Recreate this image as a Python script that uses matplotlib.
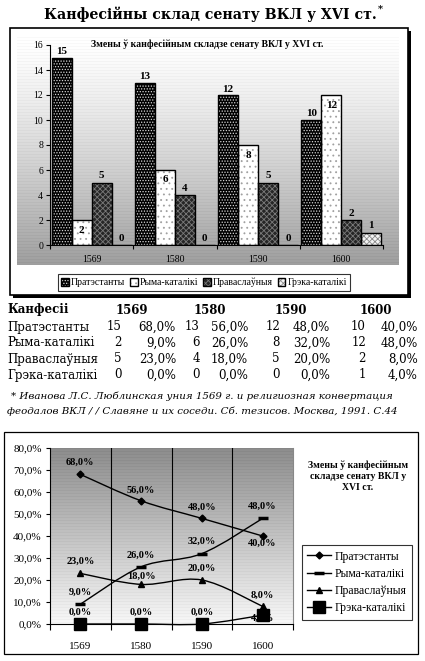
import numpy as np
import matplotlib
matplotlib.use('Agg')
import matplotlib.pyplot as plt
from matplotlib.patches import Rectangle, PathPatch
from matplotlib.path import Path
from matplotlib.lines import Line2D

# ---------------- data ----------------
years = ['1569', '1580', '1590', '1600']
confessions = ['Пратэстанты', 'Рыма-каталікі', 'Праваслаўныя', 'Грэка-каталікі']
protestants = [15, 13, 12, 10]
roman_catholics = [2, 6, 8, 12]
orthodox = [5, 4, 5, 2]
greek_catholics = [0, 0, 0, 1]
protestants_pct = [68.0, 56.0, 48.0, 40.0]
roman_catholics_pct = [9.0, 26.0, 32.0, 48.0]
orthodox_pct = [23.0, 18.0, 20.0, 8.0]
greek_catholics_pct = [0.0, 0.0, 0.0, 4.0]
bar_yticks = [0, 2, 4, 6, 8, 10, 12, 14, 16]
pct_yticks = [0, 10, 20, 30, 40, 50, 60, 70, 80]

main_title = 'Канфесійны склад сенату ВКЛ у XVI ст.'
bar_title = 'Змены ў канфесійным складзе сенату ВКЛ у XVI ст.'
line_title = 'Змены ў канфесійным\nскладзе сенату ВКЛ у\nXVI ст.'
table_header = 'Канфесіі'
footnote_lines = ['* Иванова Л.С. Люблинская уния 1569 г. и религиозная конвертация',
                  'феодалов ВКЛ / / Славяне и их соседи. Сб. тезисов. Москва, 1991. С.44']

counts = [protestants, roman_catholics, orthodox, greek_catholics]
pcts = [protestants_pct, roman_catholics_pct, orthodox_pct, greek_catholics_pct]

# ---------------- figure ----------------
plt.rcParams['hatch.linewidth'] = 0.6
W, H = 425, 661
fig = plt.figure(figsize=(W / 100, H / 100), dpi=100)


def rect(x0, y0, x1, y1):
    return [x0 / W, 1 - y1 / H, (x1 - x0) / W, (y1 - y0) / H]


bg = fig.add_axes([0, 0, 1, 1], zorder=0)
bg.axis('off')
bg.set_autoscale_on(False)
bg.set_xlim(0, W)
bg.set_ylim(H, 0)


def gradient(x0, y0, x1, y1, top, bottom, gamma, z):
    n = int(y1 - y0)
    t = np.linspace(0, 1, n)
    v = top + (bottom - top) * t ** gamma
    v = v + np.where(np.arange(n) % 3 == 0, -0.025, 0.0)
    img = np.repeat(np.clip(v, 0, 1)[:, None], 2, axis=1)
    bg.imshow(img, cmap='gray', vmin=0, vmax=1, extent=(x0, x1, y1, y0),
              aspect='auto', interpolation='nearest', zorder=z)


SERIF = 'Liberation Serif'
WIDE = 'DejaVu Serif'

# main title with superscript asterisk
title_txt = bg.text(210, 14, main_title, ha='center', va='center', fontsize=10.2,
                    fontweight='bold', family=WIDE)
renderer = fig.canvas.get_renderer()
bb = title_txt.get_window_extent(renderer=renderer)
x_end = bg.transData.inverted().transform((bb.x1, bb.y1))[0]
bg.text(x_end + 1, 9, '*', ha='left', va='center', fontsize=7, fontweight='bold', family=WIDE)

# bar chart frame
bg.add_patch(Rectangle((13, 31), 398, 267, facecolor='black', edgecolor='none', zorder=1))
bg.add_patch(Rectangle((10, 28), 398, 267, facecolor='white', edgecolor='black', lw=1.2, zorder=2))
gradient(17, 37, 399, 265, 1.0, 0.62, 1.3, 3)
bg.text(207, 44, bar_title, ha='center', va='center', fontsize=7, fontweight='bold',
        family=SERIF, zorder=5)

# ---------------- bar chart ----------------
ax1 = fig.add_axes(rect(50, 45, 383, 245), zorder=2)
ax1.patch.set_alpha(0)
x = np.arange(len(years))
bw = 0.24
bar_styles = [
    dict(face='black', dots='#d8d8d8', hatch='......'),
    dict(face='white', dots='#a0a0a0', hatch='...'),
    dict(face='#262626', dots='#7a7a7a', hatch='xxxxxx'),
    dict(face='#f4f4f4', dots='#8a8a8a', hatch='xxxxxx'),
]
label_offsets = [6, -10, 7, 7]
bar_handles = []
for i, vals in enumerate(counts):
    st = bar_styles[i]
    pos = x + (i - 1.5) * bw
    fill = ax1.bar(pos, vals, bw, color=st['face'], edgecolor=st['dots'], hatch=st['hatch'],
                   linewidth=0, zorder=2)
    edge = ax1.bar(pos, vals, bw, facecolor='none', edgecolor='black', linewidth=1, zorder=3)
    bar_handles.append((fill[0], edge[0]))
    for p, v in zip(pos, vals):
        ax1.annotate(str(v), (p, v), xytext=(0, label_offsets[i]), textcoords='offset pixels',
                     ha='center', va='center', fontsize=8, fontweight='bold', family=SERIF,
                     zorder=5)
ax1.set_xlim(-0.5, len(years) - 0.5)
ax1.set_ylim(bar_yticks[0], bar_yticks[-1])
ax1.set_yticks(bar_yticks)
ax1.set_yticklabels([str(t) for t in bar_yticks], fontsize=7, family=SERIF)
ax1.set_xticks(x)
ax1.set_xticklabels(years, fontsize=7, family=SERIF)
ax1.set_xticks(np.arange(-0.5, len(years), 1.0), minor=True)
ax1.tick_params(axis='x', which='major', length=0, pad=7)
ax1.tick_params(axis='x', which='minor', length=3, direction='out', width=0.8)
ax1.tick_params(axis='y', length=3, direction='out', width=0.8, pad=2)
for s in ['top', 'right']:
    ax1.spines[s].set_visible(False)
for s in ['left', 'bottom']:
    ax1.spines[s].set_linewidth(0.8)

leg1 = fig.legend(bar_handles, confessions, loc='center', bbox_to_anchor=(204 / W, 1 - 282.5 / H),
                  ncol=4, frameon=True, fancybox=False, edgecolor='black',
                  prop={'family': SERIF, 'size': 7}, handlelength=0.8, handleheight=0.8,
                  handletextpad=0.2, columnspacing=0.5, borderpad=0.35)
leg1.get_frame().set_linewidth(0.8)

# ---------------- table ----------------
header_y = 310
row_ys = [327, 343, 359, 375]
year_centers = [132, 210, 291, 376]
count_right = [122, 200, 280, 366]
pct_right = [176, 248, 330, 418]
tfs = 8.5
bg.text(7, header_y, table_header, ha='left', va='center', fontsize=tfs, fontweight='bold', family=WIDE)
for yc, yr in zip(year_centers, years):
    bg.text(yc, header_y, yr, ha='center', va='center', fontsize=tfs, fontweight='bold', family=WIDE)
for r, name in enumerate(confessions):
    y = row_ys[r]
    bg.text(7, y, name, ha='left', va='center', fontsize=tfs, family=WIDE)
    for c in range(len(years)):
        bg.text(count_right[c], y, str(counts[r][c]), ha='right', va='center', fontsize=tfs, family=WIDE)
        bg.text(pct_right[c], y, f'{pcts[r][c]:.1f}%'.replace('.', ','), ha='right', va='center',
                fontsize=tfs, family=WIDE)

for k, line in enumerate(footnote_lines):
    bg.text(11 if k == 0 else 7, 396 + 15 * k, line, ha='left', va='center', fontsize=7.4,
            style='italic', family=WIDE)

# ---------------- line chart ----------------
bg.add_patch(Rectangle((4, 432), 414, 222, facecolor='white', edgecolor='black', lw=0.9, zorder=1))
gradient(50, 448, 293, 624, 0.55, 0.97, 1.0, 3)
bg.text(358, 476, line_title, ha='center', va='center', fontsize=7, fontweight='bold',
        family=SERIF, linespacing=1.25, zorder=5)

ax2 = fig.add_axes(rect(50, 448, 293, 624), zorder=2)
ax2.patch.set_alpha(0)


def smooth_path(xs, ys):
    pts = np.column_stack([xs, ys]).astype(float)
    n = len(pts)
    verts = [pts[0]]
    codes = [Path.MOVETO]
    for i in range(n - 1):
        p0 = pts[i - 1] if i > 0 else pts[i]
        p1 = pts[i]
        p2 = pts[i + 1]
        p3 = pts[i + 2] if i + 2 < n else pts[i + 1]
        verts += [p1 + (p2 - p0) / 6, p2 - (p3 - p1) / 6, p2]
        codes += [Path.CURVE4] * 3
    return Path(verts, codes)


line_styles = [
    dict(marker='D', ms=3.5, mew=1),
    dict(marker='_', ms=7, mew=2.5),
    dict(marker='^', ms=5, mew=1),
    dict(marker='s', ms=8, mew=1),
]
pct_label_offsets = [
    [12, 11, 11, -7],
    [12, 12, 12, 12],
    [12, 8, 12, 11],
    [12, 12, 12, -3],
]
line_handles = []
for i, vals in enumerate(pcts):
    st = line_styles[i]
    ax2.add_patch(PathPatch(smooth_path(x, vals), facecolor='none', edgecolor='black', lw=1,
                            zorder=3, clip_on=False))
    ax2.plot(x, vals, linestyle='none', marker=st['marker'], ms=st['ms'], mew=st['mew'],
             color='black', zorder=4, clip_on=False)
    line_handles.append(Line2D([], [], color='black', lw=1, marker=st['marker'], ms=st['ms'],
                               mew=st['mew']))
    for xi, v, off in zip(x, vals, pct_label_offsets[i]):
        ax2.annotate(f'{v:.1f}%'.replace('.', ','), (xi, v), xytext=(0, off),
                     textcoords='offset pixels', ha='center', va='center', fontsize=7.5,
                     fontweight='bold', family=SERIF, zorder=5)

ax2.set_xlim(-0.5, len(years) - 0.5)
ax2.set_ylim(pct_yticks[0], pct_yticks[-1])
ax2.set_yticks(pct_yticks)
ax2.set_yticklabels([f'{float(t):.1f}%'.replace('.', ',') for t in pct_yticks], fontsize=8, family=SERIF)
ax2.set_xticks(x)
ax2.set_xticklabels(years, fontsize=8, family=SERIF)
ax2.set_xticks(np.arange(-0.5, len(years), 1.0), minor=True)
ax2.tick_params(axis='x', which='major', length=0, pad=13)
ax2.tick_params(axis='x', which='minor', length=4, direction='out', width=0.8)
ax2.tick_params(axis='y', length=3, direction='out', width=0.8, pad=3)
for b in np.arange(0.5, len(years) - 1, 1.0):
    ax2.axvline(b, color='black', lw=0.8, zorder=1)
ax2.spines['top'].set_visible(False)
ax2.spines['right'].set_color('#888888')
ax2.spines['right'].set_linewidth(0.8)
ax2.spines['left'].set_linewidth(0.8)
ax2.spines['bottom'].set_linewidth(0.8)

leg2 = fig.legend(line_handles, confessions, loc='center', bbox_to_anchor=(357 / W, 1 - 582.5 / H),
                  frameon=True, fancybox=False, edgecolor='black',
                  prop={'family': SERIF, 'size': 8.5}, handlelength=2.0, handletextpad=0.3,
                  labelspacing=0.45, borderpad=0.5)
leg2.get_frame().set_linewidth(0.8)

fig.savefig('out.png', dpi=100)
